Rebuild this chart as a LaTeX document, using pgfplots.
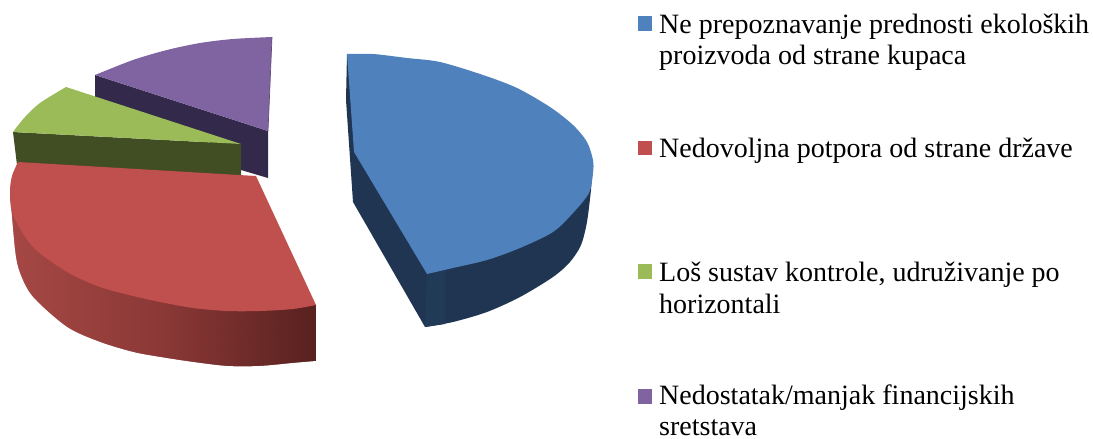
\documentclass[border=0pt]{standalone}
\usepackage{fontspec}
\setmainfont{Liberation Serif}
\usepackage{pgfplots}
\pgfplotsset{compat=1.18}
\definecolor{cblue}{HTML}{4F81BD}
\definecolor{cbluedk}{HTML}{1F3552}
\definecolor{cbluemd}{HTML}{213A58}
\definecolor{cred}{HTML}{C0504D}
\definecolor{cgreen}{HTML}{9BBB59}
\definecolor{cgreendk}{HTML}{414D22}
\definecolor{cpurple}{HTML}{8064A2}
\definecolor{cpurpledk}{HTML}{33294A}
\begin{document}
\begin{tikzpicture}
\begin{axis}[
  scale only axis, width=1093pt, height=439pt,
  xmin=0, xmax=1093, ymin=0, ymax=439, y dir=reverse,
  hide axis, clip=false,
  colormap={redside}{rgb255=(166,72,69) rgb255=(138,56,54) rgb255=(88,33,31)},
  point meta min=0, point meta max=1,
]
% page extent
\addplot[draw=none] coordinates {(0,0)(1093,439)};
% purple
\addplot[fill=cpurpledk, draw=none] coordinates {(95,75)(95,97)(241,155)(241,170)(268,178)(268,131)} -- cycle;
\addplot[smooth, fill=cpurple, draw=none] coordinates {(272,37)(233,39)(200,43)(167,50)(133,60)(95,75)} -- (axis cs:268,131) -- cycle;
\addplot[draw=cpurple!75!black, line width=0.7pt] coordinates {(272,37)(270,85)(268,131)};
% green
\addplot[fill=cgreendk, draw=none] coordinates {(13,132)(17,165)(241,176)(241,144)} -- cycle;
\addplot[smooth, fill=cgreen, draw=none] coordinates {(66,87)(40,103)(25,117)(13,132)} -- (axis cs:241,144) -- cycle;
% red side
\addplot[patch, patch type=rectangle, shader=interp, point meta=\thisrow{c}] table {
x y c
9 197 0
9 378 0
165 378 0.5
165 290 0.5
165 290 0.5
165 378 0.5
316 378 1
316 305 1
};
\addplot[smooth, fill=white, draw=none] coordinates {(10,193)(15,250)(20,273)(33,297)(67,327)(100,342)(133,352)(160,357)(193,362)(227,366)(260,366)(293,363)(316,361)} -- (axis cs:317,361) -- (axis cs:317,385) -- (axis cs:0,385) -- (axis cs:0,193) -- cycle;
% red top
\addplot[smooth, fill=cred, draw=none] coordinates {(316,305)(293,309)(260,311)(227,311)(193,308)(160,302)(133,296)(100,287)(67,272)(33,247)(13,215)(10,192)(12,176)(18,162)} -- (axis cs:256,176) -- cycle;
% blue
\addplot[smooth, fill=cbluedk, draw=none] coordinates {(425,327)(453,322)(487,312)(520,297)(553,277)(570,262)(581,245)(587,222)(591,190)} -- (axis cs:593,165) -- (axis cs:347,54) -- (axis cs:346,100) -- (axis cs:353,202) -- cycle;
\addplot[fill=cbluemd, draw=none] coordinates {(427,274)(425,327)(445,324)(445,270)} -- cycle;
\addplot[smooth, fill=cblue, draw=none] coordinates {(347,54)(373,54)(407,58)(440,62)(483,75)(517,88)(550,107)(573,125)(587,142)(593,160)(593,173)(589,193)(573,213)(553,232)(520,248)(487,260)(453,268)(427,274)} -- (axis cs:354,152) -- cycle;
% legend keys
\addplot[fill=cblue, draw=none] coordinates {(638,16)(652,16)(652,31)(638,31)} -- cycle;
\addplot[fill=cred, draw=none] coordinates {(638,141)(652,141)(652,155)(638,155)} -- cycle;
\addplot[fill=cgreen, draw=none] coordinates {(638,264)(652,264)(652,279)(638,279)} -- cycle;
\addplot[fill=cpurple, draw=none] coordinates {(638,389)(652,389)(652,404)(638,404)} -- cycle;
\def\lab#1#2{\node[anchor=base west, inner sep=0pt, font=\fontsize{28}{30}\selectfont] at (axis cs:659,#1) {#2};}
\lab{33}{Ne prepoznavanje prednosti ekoloških}
\lab{64}{proizvoda od strane kupaca}
\lab{157}{Nedovoljna potpora od strane države}
\lab{281}{Loš sustav kontrole, udruživanje po}
\lab{313}{horizontali}
\lab{404}{Nedostatak/manjak financijskih}
\lab{435.5}{sretstava}
\end{axis}
\end{tikzpicture}
\end{document}
